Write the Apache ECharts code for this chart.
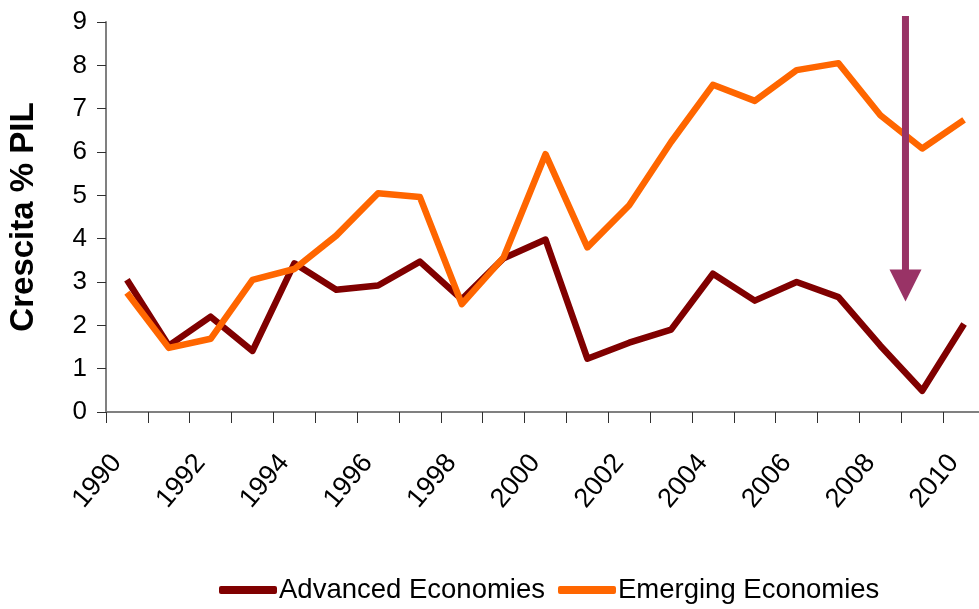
<!DOCTYPE html>
<html>
<head>
<meta charset="utf-8">
<script src="https://cdn.jsdelivr.net/npm/echarts@6/dist/echarts.min.js"></script>
<style>
  html, body { margin: 0; padding: 0; background: #fff; }
  #chart { width: 979px; height: 609px; }
</style>
</head>
<body>
<div id="chart"></div>
<script>
// anni
var years = ['1990','1991','1992','1993','1994','1995','1996','1997','1998','1999','2000',
             '2001','2002','2003','2004','2005','2006','2007','2008','2009','2010'];
// crescita % PIL
var advanced = [3.05, 1.53, 2.2, 1.41, 3.43, 2.82, 2.92, 3.47, 2.6, 3.55, 3.98,
                1.23, 1.6, 1.9, 3.19, 2.57, 3.0, 2.65, 1.53, 0.49, 2.03];
var emerging = [2.75, 1.48, 1.69, 3.05, 3.3, 4.07, 5.05, 4.96, 2.49, 3.57, 5.95,
                3.8, 4.77, 6.23, 7.55, 7.18, 7.89, 8.05, 6.85, 6.08, 6.74];
var seriesNames = ['Advanced Economies', 'Emerging Economies'];
// freccia: posizione (indice categoria), inizio, fine
var arrow = [[18.6, 9.14, 2.55]];

var font = '"Liberation Sans", Arial, sans-serif';

var option = {
  animation: false,
  backgroundColor: '#fff',
  textStyle: { fontFamily: font },
  grid: { left: 106, top: 22, right: -6, bottom: 197, containLabel: false, outerBoundsMode: 'none' },
  legend: {
    data: seriesNames,
    bottom: 0,
    left: 214,
    icon: 'roundRect',
    itemWidth: 58,
    itemHeight: 8,
    itemGap: 13,
    textStyle: { fontSize: 27.5, color: '#000', fontFamily: font, padding: [0, 0, 0, -3] }
  },
  xAxis: [
    {
      type: 'category',
      data: years,
      boundaryGap: true,
      axisLine: { lineStyle: { color: '#808080', width: 2 } },
      axisTick: { show: true, interval: 0, length: 11, lineStyle: { color: '#303030', width: 1 } },
      axisLabel: {
        interval: 1, rotate: 50, margin: 34, fontSize: 27, color: '#000', fontFamily: font,
        padding: [0, 16, 0, 0]
      }
    },
    {
      type: 'value',
      min: -0.5,
      max: 20.5,
      show: false
    }
  ],
  yAxis: {
    type: 'value',
    min: 0,
    max: 9,
    interval: 1,
    name: 'Crescita % PIL',
    nameLocation: 'middle',
    nameGap: 66,
    nameTextStyle: { fontSize: 33, fontWeight: 'bold', color: '#000', fontFamily: font },
    axisLine: { show: true, onZero: false, lineStyle: { color: '#808080', width: 2 } },
    axisTick: { show: true, length: 9, lineStyle: { color: '#303030' } },
    axisLabel: { fontSize: 26, color: '#000', margin: 19, fontFamily: font },
    splitLine: { show: false }
  },
  series: [
    {
      name: seriesNames[0],
      type: 'line',
      data: advanced,
      showSymbol: false,
      symbol: 'none',
      color: '#800000',
      lineStyle: { width: 6.5, color: '#800000', join: 'round' },
      z: 3
    },
    {
      name: seriesNames[1],
      type: 'line',
      data: emerging,
      showSymbol: false,
      symbol: 'none',
      color: '#FF6600',
      lineStyle: { width: 6.5, color: '#FF6600', join: 'round' },
      z: 4
    },
    {
      // freccia verticale
      type: 'custom',
      xAxisIndex: 1,
      data: arrow,
      z: 10,
      silent: true,
      renderItem: function (params, api) {
        var top = api.coord([api.value(0), api.value(1)]);
        var bot = api.coord([api.value(0), api.value(2)]);
        var head = 32;
        return {
          type: 'group',
          children: [
            {
              type: 'line',
              shape: { x1: top[0], y1: top[1], x2: bot[0], y2: bot[1] - head + 2 },
              style: { stroke: '#993366', lineWidth: 7 }
            },
            {
              type: 'polygon',
              shape: { points: [[bot[0] - 16, bot[1] - head], [bot[0] + 16, bot[1] - head], [bot[0], bot[1]]] },
              style: { fill: '#993366' }
            }
          ]
        };
      }
    }
  ]
};

echarts.init(document.getElementById('chart')).setOption(option);
</script>
</body>
</html>
